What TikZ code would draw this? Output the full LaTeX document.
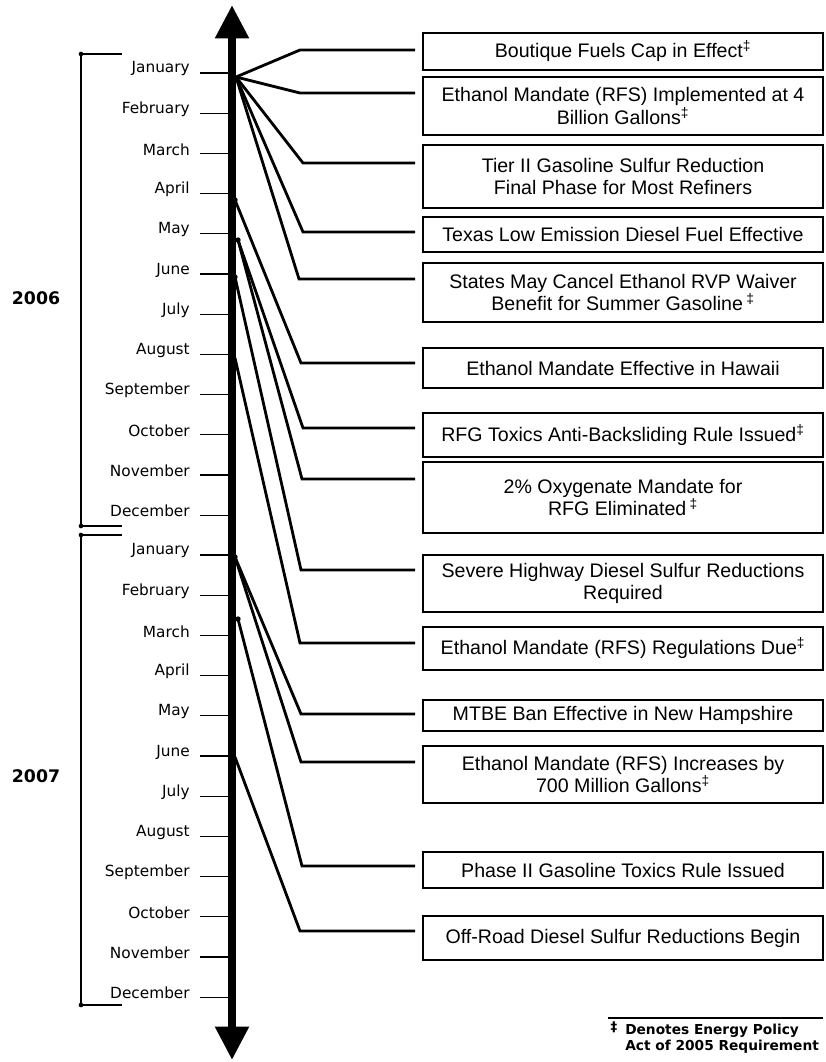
\documentclass[tikz,border=0pt]{standalone}
\usepackage{fontspec}
\setmainfont{Liberation Sans}
\newfontfamily\monthfont{DejaVu Sans}
\usetikzlibrary{arrows.meta}

\tikzset{
  event/.style={draw, line width=2pt, minimum width=300pt, align=center,
    inner sep=1pt, font=\fontsize{14.7}{17}\selectfont},
  lead/.style={line width=2.1pt, shorten >=5pt},
  month/.style={anchor=east, inner sep=0pt, font=\monthfont\fontsize{11.5}{13}\selectfont},
  tick/.style={line width=0.8pt},
  bracket/.style={line width=1.3pt},
  year/.style={font=\monthfont\bfseries\fontsize{13}{15}\selectfont},
  dot/.style={circle, fill, inner sep=0pt, minimum size=4pt}
}

\begin{document}
\begin{tikzpicture}[x=0.75pt,y=-0.75pt]
\useasboundingbox (0,0) rectangle (825,1062);

% time axis
\draw[line width=6pt, {Triangle[width=24pt,length=25pt]}-{Triangle[width=24pt,length=25pt]}]
  (232,5) -- (232,1060);

\foreach \m [count=\i from 0] in {January,February,March,April,May,June,July,August,September,October,November,December} {
  \draw[tick] (200,{73+40.2*\i}) -- (229,{73+40.2*\i});
  \node (m06-\i) [month] at (190,{69+40.2*\i}) {\m};
  \draw[tick] (200,{555+40.2*\i}) -- (229,{555+40.2*\i});
  \node (m07-\i) [month] at (190,{551+40.2*\i}) {\m};
}

% year brackets
\draw[bracket] (122,54) -- (81,54) -- (81,526) -- (122,526);
\draw[bracket] (122,535) -- (81,535) -- (81,1005) -- (122,1005);
\foreach \y in {54,526,535,1005}
  \node (c-\y) [dot, minimum size=3.5pt] at (81,\y) {};
\node (y2006) [year] at (36,298) {2006};
\node (y2007) [year] at (36,776) {2007};

% start points on the axis
\coordinate (o-jan06) at (236,77);
\coordinate (o-apr06) at (235,200);
\coordinate (o-may06) at (238,240);
\coordinate (o-jun06) at (235,277);
\coordinate (o-aug06) at (235,358);
\coordinate (o-jan07) at (235,557);
\coordinate (o-mar07) at (238,619);
\coordinate (o-jun07) at (235,757);
\foreach \o in {apr06,may06,jun06,jan07,mar07}
  \node (d-\o) [dot] at (o-\o) {};

% events
\node (boutique) [event, minimum height=27.75pt] at (623,51.5) {Boutique Fuels Cap in Effect\textsuperscript{‡}};
\node (rfs4) [event, minimum height=43.5pt] at (623,106) {Ethanol Mandate (RFS) Implemented at 4\\Billion Gallons\textsuperscript{‡}};
\node (tier2) [event, minimum height=47.25pt] at (623,176.5) {Tier II Gasoline Sulfur Reduction\\Final Phase for Most Refiners};
\node (texas) [event, minimum height=26.25pt] at (623,234.5) {Texas Low Emission Diesel Fuel Effective};
\node (rvp) [event, minimum height=44.25pt] at (623,292.5) {States May Cancel Ethanol RVP Waiver\\Benefit for Summer Gasoline\,\textsuperscript{‡}};
\node (hawaii) [event, minimum height=30pt] at (623,368) {Ethanol Mandate Effective in Hawaii};
\node (rfgtox) [event, minimum height=33pt] at (623,435) {RFG Toxics Anti-Backsliding Rule Issued\textsuperscript{‡}};
\node (oxy) [event, minimum height=53.25pt] at (623,497.5) {2\% Oxygenate Mandate for\\RFG Eliminated\,\textsuperscript{‡}};
\node (hwydsl) [event, minimum height=42.75pt] at (623,583.5) {Severe Highway Diesel Sulfur Reductions\\Required};
\node (rfsregs) [event, minimum height=32.25pt] at (623,648.5) {Ethanol Mandate (RFS) Regulations Due\textsuperscript{‡}};
\node (mtbe) [event, minimum height=23.25pt] at (623,715.5) {MTBE Ban Effective in New Hampshire};
\node (rfs700) [event, minimum height=42.75pt] at (623,774.5) {Ethanol Mandate (RFS) Increases by\\700 Million Gallons\textsuperscript{‡}};
\node (gastox) [event, minimum height=27pt] at (623,870) {Phase II Gasoline Toxics Rule Issued};
\node (offroad) [event, minimum height=33pt] at (623,938) {Off-Road Diesel Sulfur Reductions Begin};

% leaders
\foreach \o/\b/\k/\y in {jan06/boutique/300/50, jan06/rfs4/300/93, jan06/tier2/303/163,
    jan06/texas/303/232, jan06/rvp/299/279, apr06/hawaii/301/363, may06/rfgtox/303/428,
    may06/oxy/302/479, jun06/hwydsl/301/570, aug06/rfsregs/300/643, jan07/mtbe/301/714,
    jan07/rfs700/301/762, mar07/gastox/302/866, jun07/offroad/300/931}
  \draw[lead] (o-\o) -- (\k,\y) -- (\b.west |- 0,\y);

% footnote
\draw[line width=1.2pt] (608,1018) -- (823,1018);
\node (dagger) [font=\monthfont\bfseries\fontsize{10}{12}\selectfont] at (614,1027) {‡};
\node (note) [anchor=north west, align=left, inner sep=0pt,
  font=\monthfont\bfseries\fontsize{10.3}{12}\selectfont] at (625,1024)
  {Denotes Energy Policy\\Act of 2005 Requirement};
\end{tikzpicture}
\end{document}
